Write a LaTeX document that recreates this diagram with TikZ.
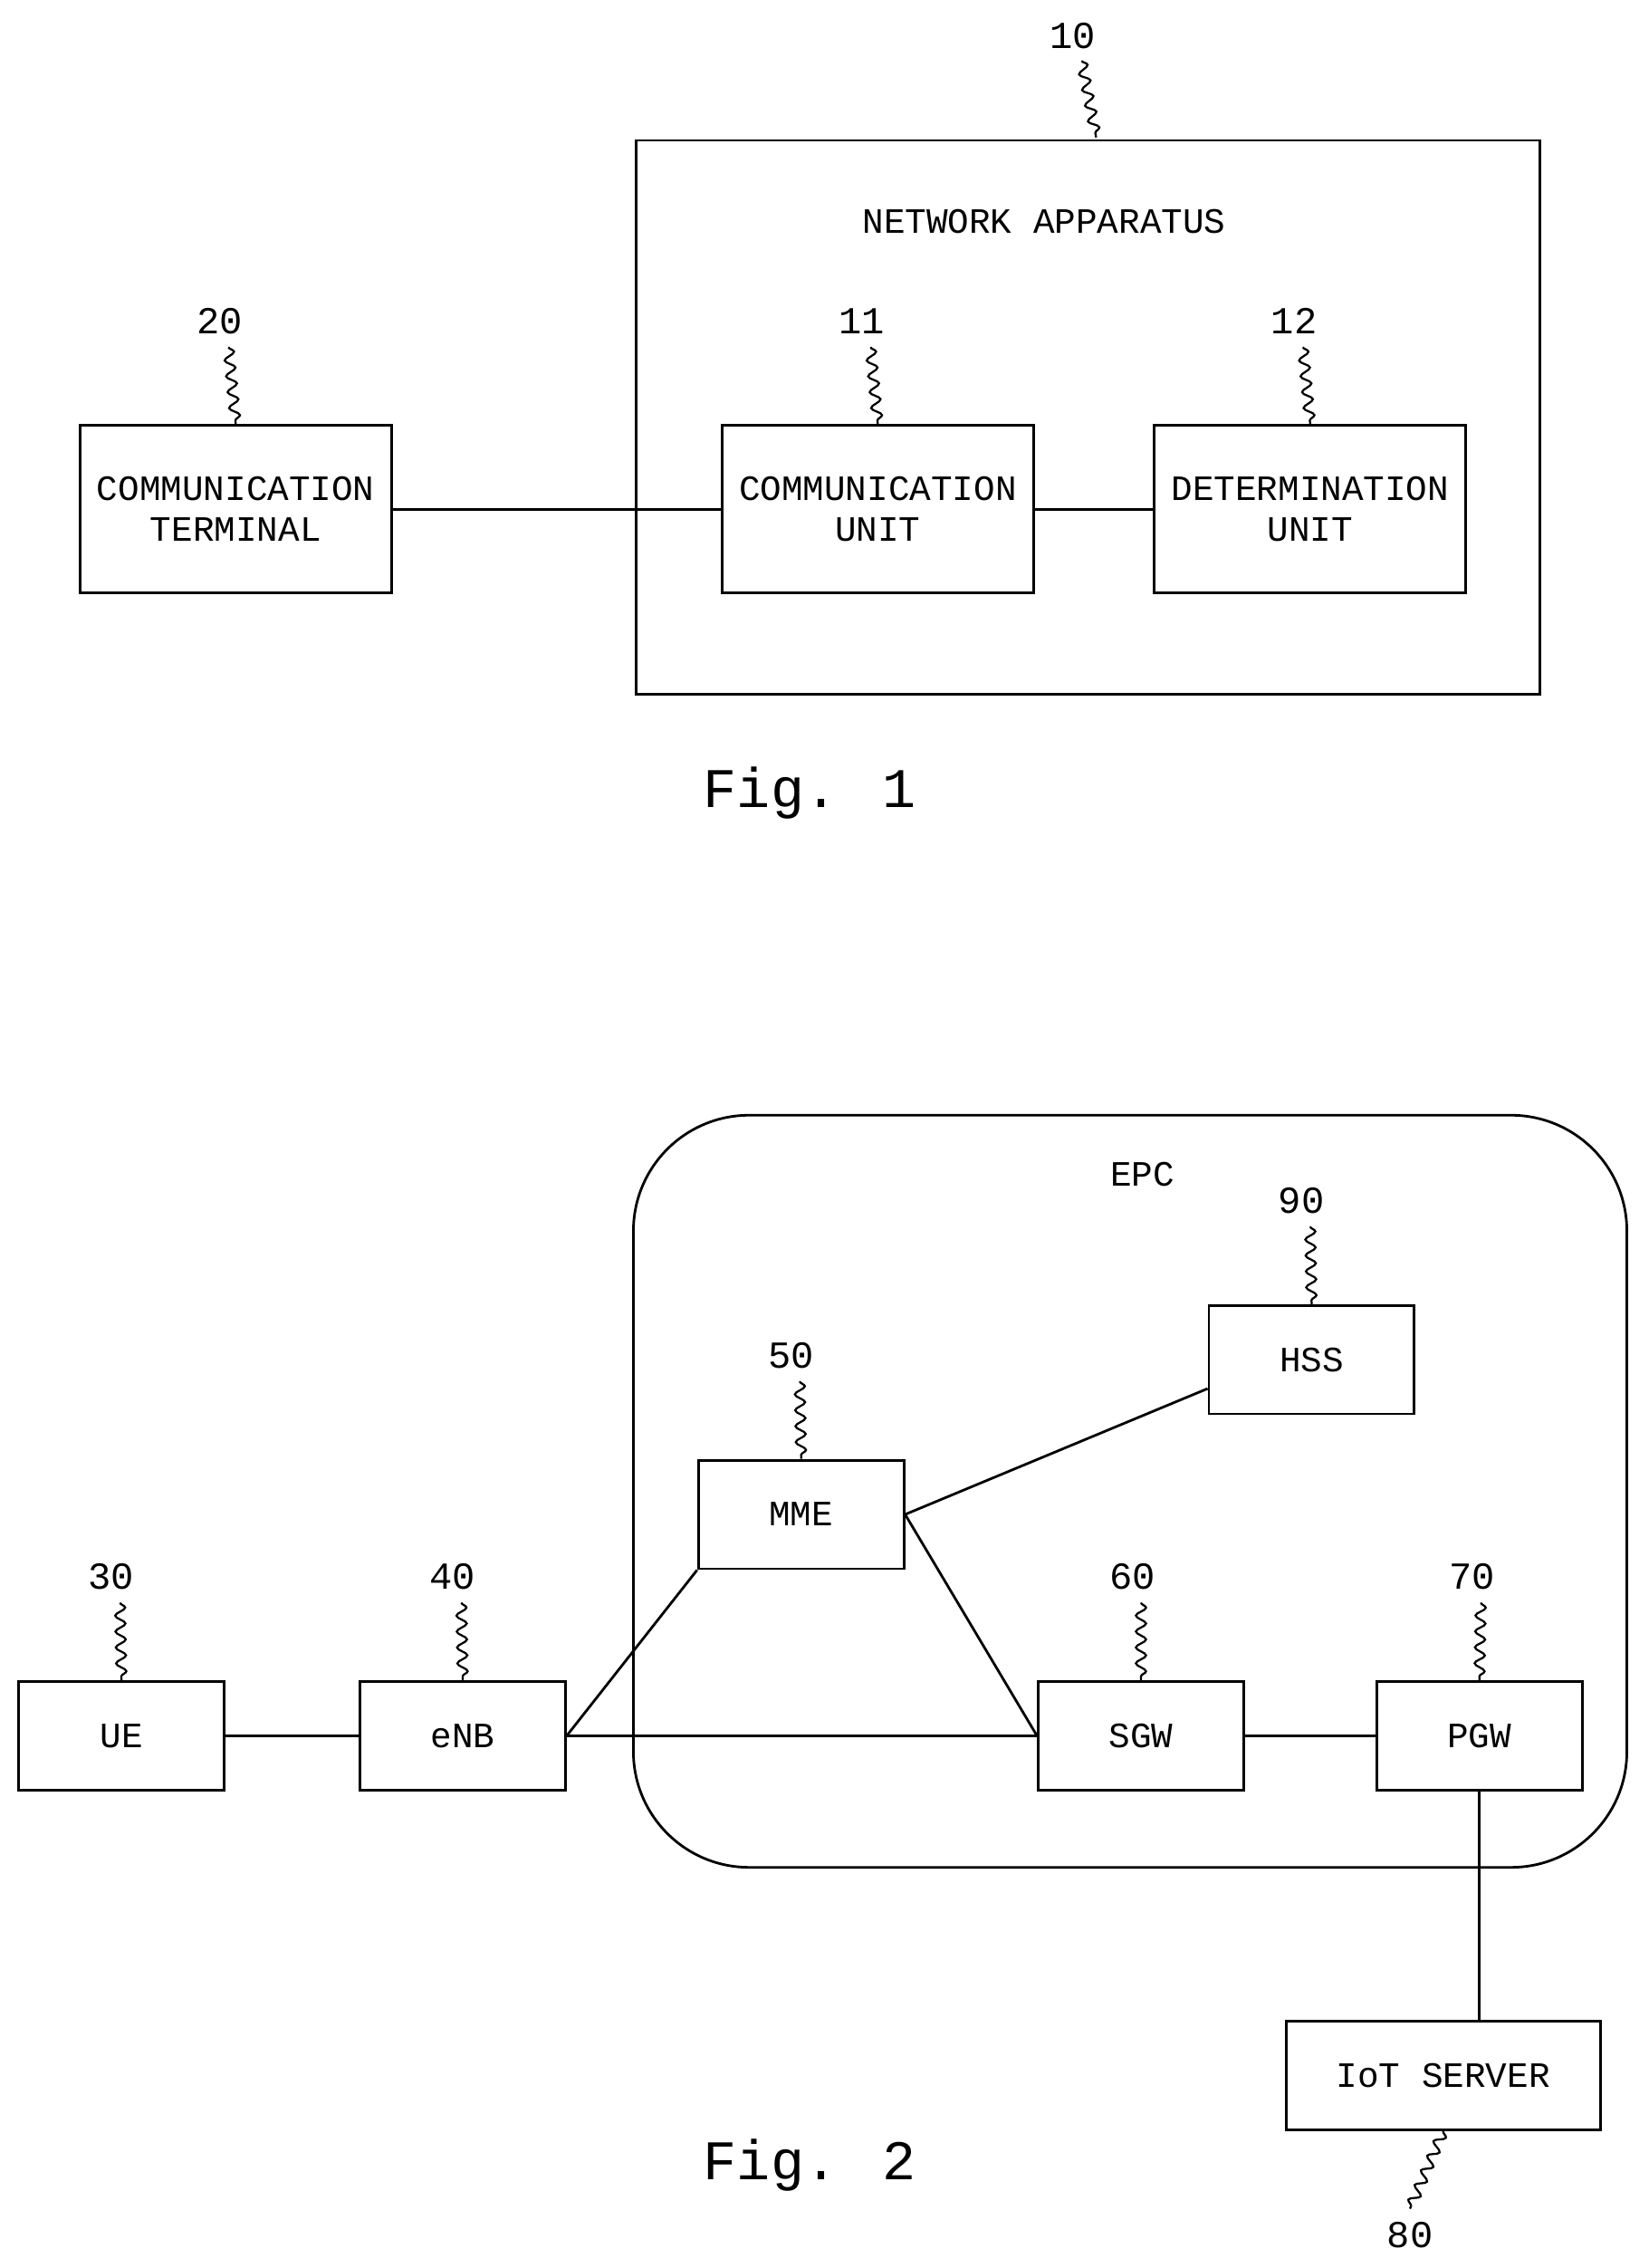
\documentclass[tikz,border=0pt]{standalone}
\usepackage{fontspec}
\setmainfont{Liberation Mono}
\usetikzlibrary{decorations.pathmorphing}
\begin{document}
\begin{tikzpicture}[x=0.01cm,y=-0.01cm,
  box/.style={draw,line width=0.5pt,align=center,font=\fontsize{7}{8}\selectfont},
  lbl/.style={font=\fontsize{7.5}{9}\selectfont},
  sq/.style={decorate,decoration={snake,amplitude=0.035cm,segment length=0.11cm},line width=0.4pt},
  ln/.style={line width=0.5pt},
  fig/.style={font=\fontsize{11}{13}\selectfont}]
\useasboundingbox (0,0) rectangle (1140,1568);
% Fig 1
\draw[ln] (440,97) rectangle (1065,480);
\node[lbl] (l10) at (742,25) {10};
\coordinate (t10) at (758,95);
\draw[sq] (748,42) -- (t10);
\node[font=\fontsize{7}{8}\selectfont] (na) at (722,153) {NETWORK APPARATUS};
\node[box,minimum width=2.12cm,minimum height=1.16cm] (b20) at (163,352) {COMMUNICATION\\TERMINAL};
\node[box,minimum width=2.12cm,minimum height=1.16cm] (b11) at (607,352) {COMMUNICATION\\UNIT};
\node[box,minimum width=2.12cm,minimum height=1.16cm] (b12) at (906,352) {DETERMINATION\\UNIT};
\node[lbl] (l20) at (152,222) {20};
\node[lbl] (l11) at (596,222) {11};
\node[lbl] (l12) at (895,222) {12};
\draw[sq] (158,240) -- (b20.north);
\draw[sq] (602,240) -- (b11.north);
\draw[sq] (901,240) -- (b12.north);
\draw[ln] (b20) -- (b11);
\draw[ln] (b11) -- (b12);
\node[fig] (f1) at (560,548) {Fig. 1};
% Fig 2
\draw[ln,rounded corners=0.8cm] (438,771) rectangle (1125,1291);
\node[font=\fontsize{7}{8}\selectfont] (epc) at (790,812) {EPC};
\tikzset{sb/.style={box,minimum width=1.42cm,minimum height=0.75cm}}
\node[sb] (hss) at (907,940) {HSS};
\node[sb] (mme) at (554,1047) {MME};
\node[sb] (ue) at (84,1200) {UE};
\node[sb] (enb) at (320,1200) {eNB};
\node[sb] (sgw) at (789,1200) {SGW};
\node[sb] (pgw) at (1023,1200) {PGW};
\node[box,minimum width=2.17cm,minimum height=0.75cm] (iot) at (998,1435) {IoT SERVER};
\node[lbl] (l90) at (900,830) {90};
\node[lbl] (l50) at (547,937) {50};
\node[lbl] (l30) at (77,1090) {30};
\node[lbl] (l40) at (313,1090) {40};
\node[lbl] (l60) at (783,1090) {60};
\node[lbl] (l70) at (1018,1090) {70};
\node[lbl] (l80) at (975,1545) {80};
\draw[sq] (906,848) -- (hss.north);
\draw[sq] (553,955) -- (mme.north);
\draw[sq] (83,1108) -- (ue.north);
\draw[sq] (319,1108) -- (enb.north);
\draw[sq] (789,1108) -- (sgw.north);
\draw[sq] (1024,1108) -- (pgw.north);
\draw[sq] (iot.south) -- (975,1527);
\draw[ln] (ue) -- (enb);
\draw[ln] (enb.east) -- (sgw.west);
\draw[ln] (enb.east) -- (mme.south west);
\draw[ln] (mme.east) -- ([yshift=-0.2cm]hss.west);
\draw[ln] (mme.east) -- (sgw.west);
\draw[ln] (sgw) -- (pgw);
\draw[ln] (pgw.south) -- (iot.north -| pgw.south);
\node[fig] (f2) at (560,1497) {Fig. 2};
\end{tikzpicture}
\end{document}
